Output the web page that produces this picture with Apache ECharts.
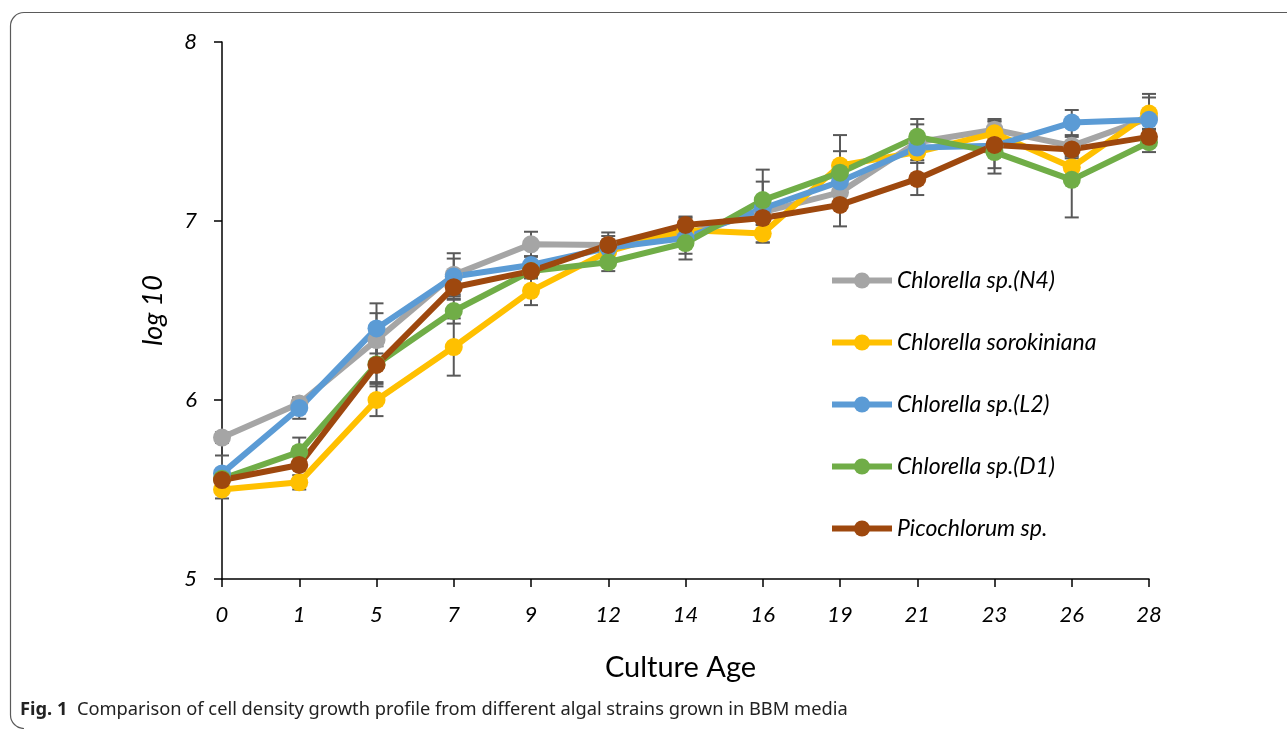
<!DOCTYPE html>
<html>
<head>
<meta charset="utf-8">
<title>Cell density growth profile</title>
<script src="https://cdn.jsdelivr.net/npm/echarts@6/dist/echarts.min.js"></script>
<style>
  html, body { margin: 0; padding: 0; background: #fff; }
  #chart { width: 1287px; height: 729px; }
</style>
</head>
<body>
<div id="chart"></div>
<script>
// Culture age (days) on the category axis
const days = ['0', '1', '5', '7', '9', '12', '14', '16', '19', '21', '23', '26', '28'];

// log10 cell density per strain
const n4   = [5.79, 5.98, 6.335, 6.70, 6.87, 6.866, 6.93, 7.05, 7.16, 7.44, 7.51, 7.42, 7.575];
const soro = [5.50, 5.54, 6.00, 6.296, 6.61, 6.83, 6.95, 6.93, 7.31, 7.385, 7.49, 7.30, 7.60];
const l2   = [5.59, 5.955, 6.40, 6.69, 6.754, 6.85, 6.905, 7.07, 7.22, 7.41, 7.42, 7.55, 7.565];
const d1   = [5.56, 5.71, 6.20, 6.497, 6.72, 6.77, 6.877, 7.117, 7.27, 7.47, 7.385, 7.23, 7.44];
const pico = [5.553, 5.637, 6.196, 6.63, 6.72, 6.866, 6.978, 7.017, 7.09, 7.235, 7.425, 7.40, 7.47];

// standard deviations (± error bars)
const n4Err   = [0.03, 0.03, 0.15, 0.12, 0.07, 0.05, 0.05, 0.17, 0.05, 0.10, 0.06, 0.05, 0.115];
const soroErr = [0.05, 0.04, 0.09, 0.16, 0.08, 0.04, 0.04, 0.05, 0.17, 0.06, 0.07, 0.05, 0.11];
const l2Err   = [0.10, 0.06, 0.14, 0.10, 0.05, 0.04, 0.12, 0.05, 0.06, 0.05, 0.05, 0.07, 0.05];
const d1Err   = [0.04, 0.08, 0.10, 0.07, 0.04, 0.05, 0.06, 0.17, 0.12, 0.10, 0.12, 0.21, 0.055];
const picoErr = [0.04, 0.10, 0.12, 0.07, 0.04, 0.07, 0.04, 0.04, 0.12, 0.09, 0.13, 0.04, 0.04];

const yTicks = [5, 6, 7, 8];

const strains = [
  { name: 'Chlorella sp.(N4)',     values: n4,   err: n4Err,   color: '#A5A5A5' },
  { name: 'Chlorella sorokiniana', values: soro, err: soroErr, color: '#FFC000' },
  { name: 'Chlorella sp.(L2)',     values: l2,   err: l2Err,   color: '#5B9BD5' },
  { name: 'Chlorella sp.(D1)',     values: d1,   err: d1Err,   color: '#70AD47' },
  { name: 'Picochlorum sp.',       values: pico, err: picoErr, color: '#9E480E' }
];

const FONT = 'Lato';

function errorBarItem(params, api) {
  const x = api.value(0);
  const lo = api.coord([x, api.value(1)]);
  const hi = api.coord([x, api.value(2)]);
  const half = 7;
  const style = { stroke: '#595959', lineWidth: 2, fill: null };
  return {
    type: 'group',
    children: [
      { type: 'line', shape: { x1: lo[0], y1: lo[1], x2: hi[0], y2: hi[1] }, style },
      { type: 'line', shape: { x1: lo[0] - half, y1: lo[1], x2: lo[0] + half, y2: lo[1] }, style },
      { type: 'line', shape: { x1: hi[0] - half, y1: hi[1], x2: hi[0] + half, y2: hi[1] }, style }
    ]
  };
}

const errorSeries = strains.map(s => ({
  type: 'custom',
  name: s.name + ' SD',
  z: 1,
  silent: true,
  renderItem: errorBarItem,
  encode: { x: 0, y: [1, 2] },
  data: s.values.map((v, i) => [i, v - s.err[i], v + s.err[i]])
}));

const lineSeries = strains.map(s => ({
  type: 'line',
  name: s.name,
  z: 2,
  data: s.values,
  symbol: 'circle',
  symbolSize: 18,
  color: s.color,
  lineStyle: { width: 6, color: s.color },
  itemStyle: { color: s.color }
}));

const frameStyle = { stroke: '#5a5a5a', lineWidth: 1.2, fill: null };

const chart = echarts.init(document.getElementById('chart'), null, { renderer: 'canvas' });

chart.setOption({
  animation: false,
  backgroundColor: '#ffffff',
  grid: { left: 222, right: 138, top: 42, bottom: 150, containLabel: false },
  legend: {
    data: strains.map(s => s.name),
    orient: 'vertical',
    left: 824,
    top: 264,
    itemWidth: 60,
    itemHeight: 20,
    itemGap: 39,
    lineStyle: { width: 6 },
    textStyle: { fontFamily: FONT, fontStyle: 'italic', fontSize: 23, color: '#000' }
  },
  xAxis: {
    type: 'category',
    data: days,
    boundaryGap: false,
    name: 'Culture Age',
    nameLocation: 'middle',
    nameGap: 74,
    nameTextStyle: { fontFamily: FONT, fontSize: 29, color: '#000', padding: [0, 10, 0, 0] },
    axisLine: { lineStyle: { color: '#000', width: 1.5 } },
    axisTick: { show: true, length: 8, lineStyle: { color: '#000', width: 1.5 } },
    axisLabel: { fontFamily: FONT, fontStyle: 'italic', fontSize: 22, color: '#000', margin: 25 },
    splitLine: { show: false }
  },
  yAxis: {
    type: 'value',
    min: yTicks[0],
    max: yTicks[yTicks.length - 1],
    interval: 1,
    name: 'log 10',
    nameLocation: 'middle',
    nameGap: 55,
    nameRotate: 90,
    nameTextStyle: { fontFamily: FONT, fontStyle: 'italic', fontSize: 27, color: '#000' },
    axisLine: { show: true, lineStyle: { color: '#000', width: 1.5 } },
    axisTick: { show: true, length: 8, lineStyle: { color: '#000', width: 1.5 } },
    axisLabel: { fontFamily: FONT, fontStyle: 'italic', fontSize: 22, color: '#000', margin: 25 },
    splitLine: { show: false }
  },
  graphic: [
    { type: 'line', silent: true, shape: { x1: 24, y1: 12.5, x2: 1287, y2: 12.5 }, style: frameStyle },
    { type: 'arc', silent: true, shape: { cx: 24, cy: 26, r: 13.5, startAngle: Math.PI, endAngle: Math.PI * 1.5, clockwise: true }, style: frameStyle },
    { type: 'line', silent: true, shape: { x1: 10.5, y1: 26, x2: 10.5, y2: 715 }, style: frameStyle },
    { type: 'arc', silent: true, shape: { cx: 24, cy: 715, r: 13.5, startAngle: Math.PI / 2, endAngle: Math.PI, clockwise: true }, style: frameStyle },
    {
      type: 'text',
      left: 20,
      top: 701,
      silent: true,
      style: {
        text: '{b|Fig. 1}  Comparison of cell density growth profile from different algal strains grown in BBM media',
        fontFamily: 'Noto Sans',
        fontSize: 18.3,
        fill: '#222',
        rich: {
          b: { fontFamily: 'Noto Sans', fontSize: 18.3, fontWeight: 'bold', fill: '#222' }
        }
      }
    }
  ],
  series: errorSeries.concat(lineSeries)
});
</script>
</body>
</html>
